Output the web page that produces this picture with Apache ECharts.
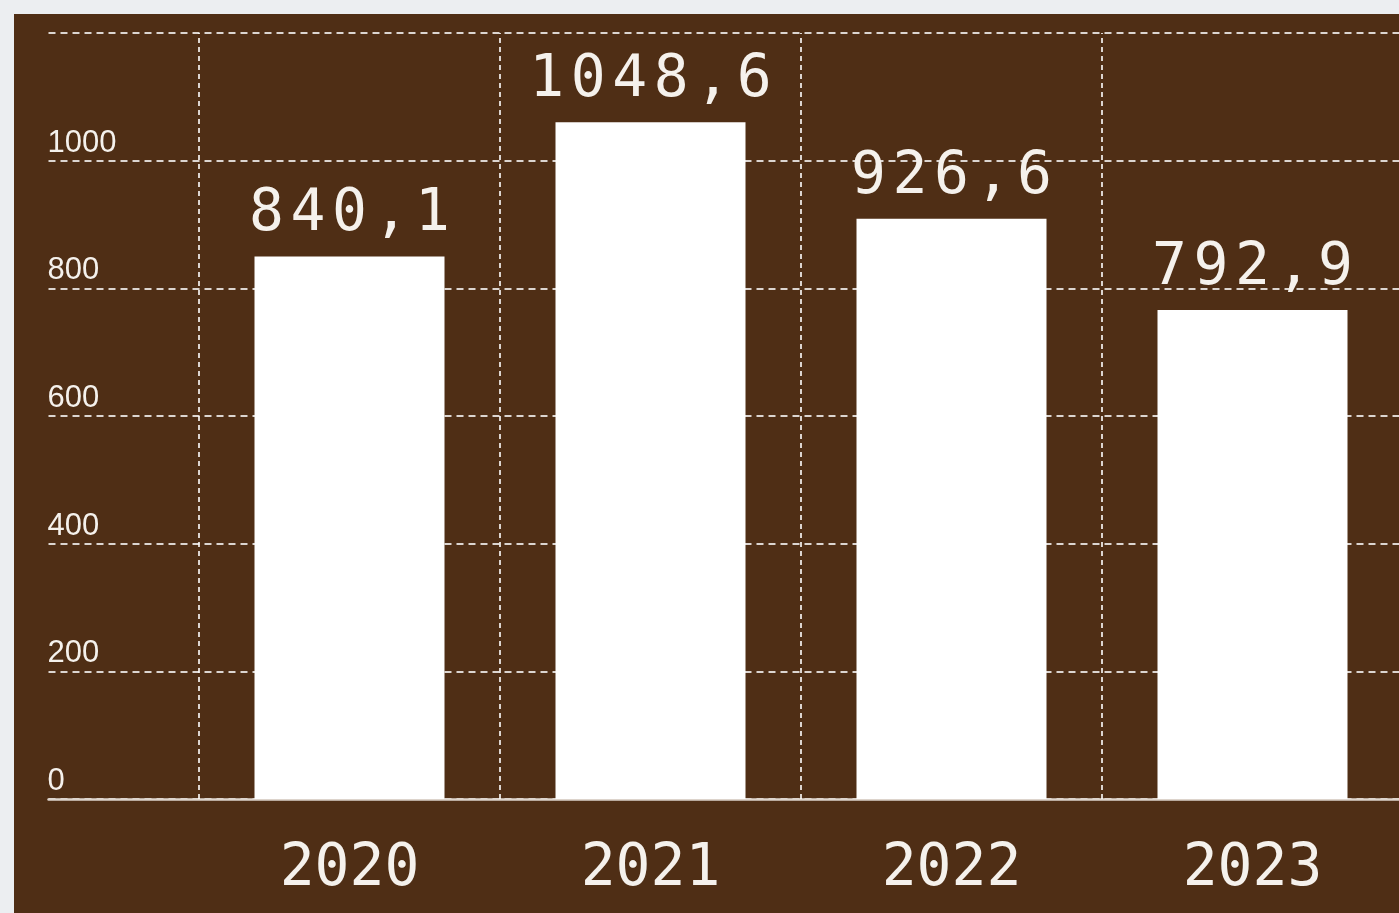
<!DOCTYPE html>
<html>
<head>
<meta charset="utf-8">
<script src="https://cdn.jsdelivr.net/npm/echarts@6/dist/echarts.min.js"></script>
<style>
  html, body { margin: 0; padding: 0; width: 1399px; height: 913px; overflow: hidden; background: #eceef1; }
  #panel { position: absolute; left: 14px; top: 14px; width: 1385px; height: 899px; background: #4f2e15; }
  #chart { position: absolute; left: 0; top: 0; width: 1399px; height: 913px; }
</style>
</head>
<body>
<div id="panel"></div>
<div id="chart"></div>
<script>
// Data
const years = ['2020', '2021', '2022', '2023'];
const barValues = [850, 1060, 909, 766];
const valueLabels = ['840,1', '1048,6', '926,6', '792,9'];
const yTicks = [0, 200, 400, 600, 800, 1000, 1200];

const chart = echarts.init(document.getElementById('chart'), null, { renderer: 'canvas' });

const textColor = '#f5f1ec';
const gridColor = 'rgba(255,255,255,0.8)';
const gridLeft = 48.5;
const unitPx = 301;
const xMax = (1399 - gridLeft) / unitPx;

const option = {
  backgroundColor: 'transparent',
  animation: false,
  grid: { left: gridLeft, top: 33, right: 0, height: 766 },
  xAxis: {
    type: 'value',
    min: 0,
    max: xMax,
    interval: 1,
    axisLine: { show: true, onZero: false, lineStyle: { color: '#ddd4cc', width: 2.5 } },
    axisTick: { show: false },
    splitLine: { show: false },
    axisLabel: {
      show: true,
      margin: 42,
      color: textColor,
      fontFamily: 'DejaVu Sans Mono',
      fontSize: 58,
      showMaxLabel: false,
      formatter: function (v) { return years[v - 1] || ''; }
    }
  },
  yAxis: {
    type: 'value',
    min: yTicks[0],
    max: yTicks[yTicks.length - 1],
    interval: 200,
    axisLine: { show: false },
    axisTick: { show: false },
    splitLine: { show: true, lineStyle: { color: gridColor, width: 2, type: [7, 5] } },
    axisLabel: {
      inside: true,
      margin: -1,
      verticalAlign: 'bottom',
      padding: [0, 0, 2, 0],
      color: textColor,
      fontFamily: 'Liberation Sans',
      fontSize: 31,
      formatter: function (v) { return v === yTicks[yTicks.length - 1] ? '' : String(v); }
    }
  },
  series: [{
    type: 'bar',
    barWidth: 190,
    itemStyle: { color: '#ffffff' },
    data: barValues.map(function (v, i) { return [i + 1, v]; }),
    label: {
      show: true,
      position: 'top',
      distance: 12,
      formatter: function (p) {
        return valueLabels[p.dataIndex].split('').map(function (c) { return '{d|' + c + '}'; }).join('');
      },
      rich: {
        d: { width: 41.5, align: 'center', fontFamily: 'DejaVu Sans Mono', fontSize: 58, color: textColor }
      }
    },
    markLine: {
      silent: true,
      symbol: 'none',
      label: { show: false },
      lineStyle: { color: gridColor, width: 2, type: [5, 4] },
      data: years.map(function (y, i) { return { xAxis: i + 0.5 }; })
    }
  }]
};

chart.setOption(option);
</script>
</body>
</html>
